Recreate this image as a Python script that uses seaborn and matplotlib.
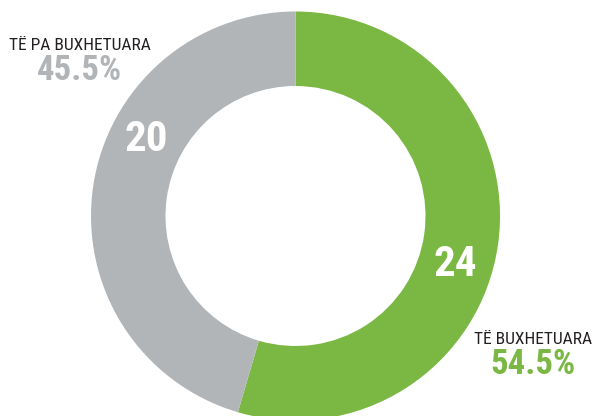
import matplotlib
matplotlib.use("Agg")
import matplotlib.pyplot as plt
from matplotlib import font_manager
import seaborn as sns
import numpy as np

# ---- data ----
categories = ["TË BUXHETUARA", "TË PA BUXHETUARA"]
values = [24, 20]
percent_labels = ["54.5%", "45.5%"]
colors = ["#7AB843", "#B1B5B8"]

sns.set_theme(style="white")

available = {f.name for f in font_manager.fontManager.ttflist}
cond = None
for cand in ["Liberation Sans Narrow", "Roboto Condensed", "Open Sans Condensed", "Arial Narrow"]:
    if cand in available:
        cond = cand
        break
families = ([cond] if cond else []) + ["Liberation Sans", "DejaVu Sans"]
plt.rcParams["font.family"] = families

W, H = 593, 416
fig = plt.figure(figsize=(W / 100, H / 100), dpi=100)
ax = fig.add_axes([0, 0, 1, 1])

cx, cy, R = 295.5, 216.0, 204.5  # pixel geometry of donut
ring_width = (204.5 - 130.0) / 204.5

wedges, _ = ax.pie(values, colors=colors, startangle=90, counterclock=False,
                   radius=1.0, wedgeprops=dict(width=ring_width, edgecolor="none"))

ax.set_aspect("auto")
ax.set_xlim(-cx / R, (W - cx) / R)
ax.set_ylim(-(H - cy) / R, cy / R)
ax.axis("off")

# value labels on the ring
mid_r = 1 - ring_width / 2
label_angles = [-17.0, 152.9]
for v, ang in zip(values, label_angles):
    a = np.deg2rad(ang)
    ax.text(mid_r * np.cos(a), mid_r * np.sin(a), str(v), color="white",
            fontsize=31, fontweight="bold", ha="center", va="center")

def px(x, y):
    return x / W, 1 - y / H

# category labels
fig.text(*px(533, 340), categories[0], ha="center", va="center",
         fontsize=12.5, color="#231F20")
fig.text(*px(533, 365), percent_labels[0], ha="center", va="center",
         fontsize=25, fontweight="bold", color=colors[0])
fig.text(*px(80, 46), categories[1], ha="center", va="center",
         fontsize=12.5, color="#231F20")
fig.text(*px(79, 70), percent_labels[1], ha="center", va="center",
         fontsize=25, fontweight="bold", color=colors[1])

fig.savefig("out.png", dpi=100, facecolor="white")
